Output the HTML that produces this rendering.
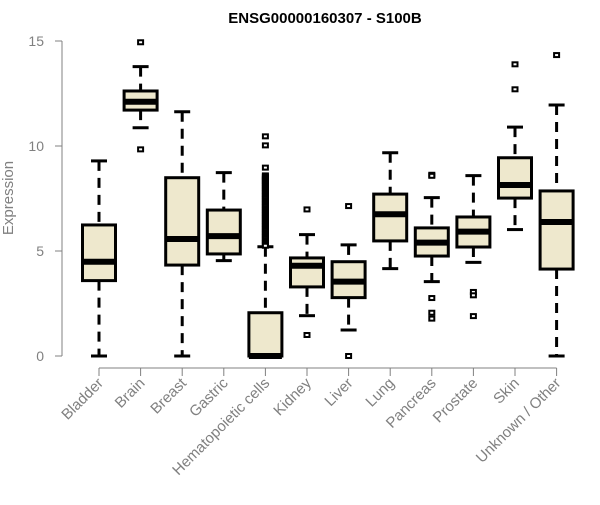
<!DOCTYPE html>
<html><head><meta charset="utf-8"><style>
body{margin:0;background:#fff;}
svg text{font-family:"Liberation Sans",Arial,sans-serif;}
</style></head><body>
<svg id="chart" width="600" height="500" viewBox="0 0 600 500" xmlns="http://www.w3.org/2000/svg">
<text x="325" y="23" text-anchor="middle" font-size="15" font-weight="bold" fill="#000">ENSG00000160307 - S100B</text>
<text transform="translate(13,198) rotate(-90)" text-anchor="middle" font-size="15" fill="#808080">Expression</text>
<g id="yaxis"></g>
<g id="xaxis"></g>
<g id="boxes"></g>
</svg>
<script>
const categories=["Bladder","Brain","Breast","Gastric","Hematopoietic cells","Kidney","Liver","Lung","Pancreas","Prostate","Skin","Unknown / Other"];
const whiskerLow=[0,10.87,0,4.54,0,1.92,1.24,4.16,3.54,4.46,6.02,0];
const q1=[3.59,11.71,4.33,4.86,0,3.29,2.78,5.48,4.76,5.19,7.52,4.14];
const medians=[4.49,12.11,5.57,5.71,0,4.30,3.54,6.75,5.40,5.92,8.14,6.38];
const q3=[6.24,12.62,8.49,6.95,2.06,4.67,4.49,7.71,6.10,6.62,9.44,7.86];
const whiskerHigh=[9.29,13.78,11.63,8.73,5.2,5.78,5.29,9.68,7.54,8.59,10.9,11.95];
const outliers=[[],[14.94,9.84],[],[],
[10.46,10.03,8.97,8.6,8.55,8.5,8.42,8.35,8.3,8.22,8.15,8.08,8.0,7.92,7.85,7.78,7.7,7.62,7.55,7.48,7.4,7.32,7.25,7.18,7.1,7.02,6.95,6.88,6.8,6.72,6.65,6.58,6.5,6.42,6.35,6.28,6.2,6.12,6.05,5.98,5.9,5.82,5.75,5.68,5.6,5.52,5.45,5.38,5.3,5.25],
[6.98,1.0],[7.14,0],[],[8.63,8.58,2.76,2.06,1.78],[3.05,2.89,1.9],[13.89,12.70],[14.33]];
const yTicks=[0,5,10,15];
const NS="http://www.w3.org/2000/svg";
const y=v=>356-v*21;
const x=i=>99+i*41.6;
const BW=33;
function mk(parent,tag,attrs){const e=document.createElementNS(NS,tag);for(const k in attrs)e.setAttribute(k,attrs[k]);parent.appendChild(e);return e;}
const ya=document.getElementById('yaxis'),xa=document.getElementById('xaxis'),bx=document.getElementById('boxes');
const yl=mk(ya,'line',{x1:62,x2:62,y1:y(15),y2:y(0),stroke:'#808080','stroke-width':1});


yTicks.forEach(t=>{
 const tk=mk(ya,'line',{x1:55,x2:62,y1:y(t),y2:y(t),stroke:'#808080'});
 
 
 const tx=mk(ya,'text',{x:44,y:y(t)+5,'text-anchor':'end','font-size':14,fill:'#808080'});
 tx.textContent=t;
 
 
});
const xl=mk(xa,'line',{x1:x(0),x2:x(categories.length-1),y1:368,y2:368,stroke:'#808080'});


categories.forEach((c,i)=>{
 const cx=x(i);
 const tk=mk(xa,'line',{x1:cx,x2:cx,y1:368,y2:376,stroke:'#808080'});
 
 
 const tx=mk(xa,'text',{transform:`translate(${cx+5},${384}) rotate(-45)`,'text-anchor':'end','font-size':15,fill:'#808080'});
 tx.textContent=c;
 
 
 const g=mk(bx,'g',{});
 
 
 mk(g,'line',{x1:cx,x2:cx,y1:y(whiskerHigh[i]),y2:y(q3[i]),stroke:'#000','stroke-width':3,'stroke-dasharray':'10,7'});
 mk(g,'line',{x1:cx,x2:cx,y1:y(q1[i]),y2:y(whiskerLow[i]),stroke:'#000','stroke-width':3,'stroke-dasharray':'10,7'});
 mk(g,'line',{x1:cx-8,x2:cx+8,y1:y(whiskerHigh[i]),y2:y(whiskerHigh[i]),stroke:'#000','stroke-width':3});
 mk(g,'line',{x1:cx-8,x2:cx+8,y1:y(whiskerLow[i]),y2:y(whiskerLow[i]),stroke:'#000','stroke-width':3});
 mk(g,'rect',{x:cx-BW/2,y:y(q3[i]),width:BW,height:Math.max(y(q1[i])-y(q3[i]),0.5),fill:'#EEE8CD',stroke:'#000','stroke-width':3});
 mk(g,'line',{x1:cx-BW/2,x2:cx+BW/2,y1:y(medians[i]),y2:y(medians[i]),stroke:'#000','stroke-width':6});
 outliers[i].forEach(v=>{
  const p=mk(g,'rect',{x:cx-2.5,y:y(v)-2,width:5,height:4,fill:'#fff',stroke:'#000','stroke-width':2});
  
  
 });
});
</script>
</body></html>
